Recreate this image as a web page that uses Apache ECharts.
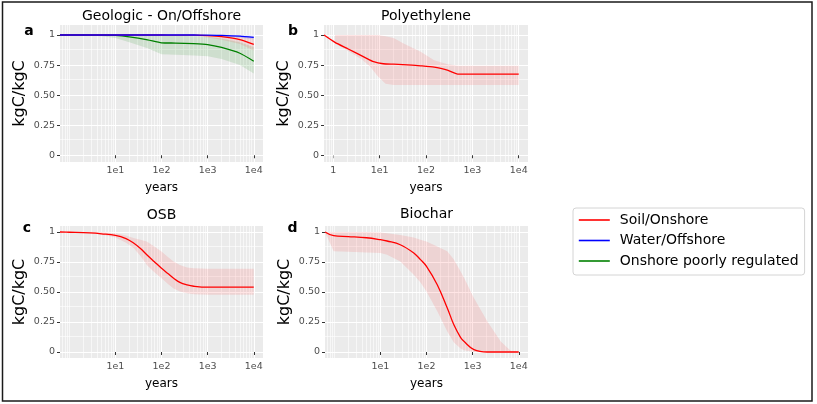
<!DOCTYPE html>
<html><head><meta charset="utf-8">
<script src="https://cdn.jsdelivr.net/npm/echarts@6/dist/echarts.min.js"></script>
<style>html,body{margin:0;padding:0;background:#fff}#c{width:817px;height:404px}</style>
</head><body><div id="c"></div>
<script>
// ---------- data ----------
const seriesNames = ['Soil/Onshore', 'Water/Offshore', 'Onshore poorly regulated'];
const panelTitles = ['Geologic - On/Offshore', 'Polyethylene', 'OSB', 'Biochar'];
const panelLetters = ['a', 'b', 'c', 'd'];
const xTicksA = [10, 100, 1000, 10000];
const xTicksB = [1, 10, 100, 1000, 10000];
const yTicks = [0, 0.25, 0.5, 0.75, 1];
const yMinor = [0.125, 0.375, 0.625, 0.875];

// Panel a: Geologic
const geoX       = [0.631, 1, 2, 5, 10, 20, 50, 100, 200, 500, 1000, 2000, 5000, 10000];
const geoSoil    = [1, 1, 1, 1, 1, 1, 1, 1, 0.999, 0.998, 0.995, 0.986, 0.962, 0.922];
const geoSoilLo  = [1, 1, 1, 1, 1, 1, 1, 1, 0.998, 0.993, 0.98, 0.96, 0.925, 0.87];
const geoSoilHi  = [1, 1, 1, 1, 1, 1, 1, 1, 1, 1, 1, 0.998, 0.99, 0.975];
const geoWater   = [1, 1, 1, 1, 1, 1, 1, 1, 1, 1, 0.999, 0.997, 0.99, 0.98];
const geoWaterLo = [1, 1, 1, 1, 1, 1, 1, 1, 1, 0.999, 0.997, 0.99, 0.978, 0.962];
const geoWaterHi = [1, 1, 1, 1, 1, 1, 1, 1, 1, 1, 1, 1, 0.999, 0.995];
const geoPoor    = [1, 1, 1, 0.999, 0.997, 0.985, 0.96, 0.935, 0.933, 0.928, 0.92, 0.896, 0.848, 0.782];
const geoPoorLo  = [1, 1, 0.998, 0.99, 0.975, 0.94, 0.89, 0.84, 0.835, 0.83, 0.823, 0.8, 0.75, 0.68];
const geoPoorHi  = [1, 1, 1, 1, 1, 1, 0.999, 0.995, 0.993, 0.99, 0.985, 0.97, 0.94, 0.9];

// Panel b: Polyethylene
const peX     = [0.631, 1.09, 2, 5, 7.4, 12, 20, 50, 77, 150, 209, 300, 484, 1000, 10000];
const peSoil  = [1, 0.939, 0.888, 0.81, 0.778, 0.761, 0.757, 0.75, 0.744, 0.733, 0.722, 0.705, 0.675, 0.675, 0.675];
const peBandX = [1.09, 2, 4, 6.3, 9, 13.4, 20, 33, 77, 150, 293, 500, 1000, 10000];
const peLo    = [0.93, 0.87, 0.8, 0.736, 0.66, 0.595, 0.585, 0.585, 0.585, 0.585, 0.585, 0.585, 0.585, 0.585];
const peHi    = [1, 1, 1, 1, 1, 0.99, 0.975, 0.93, 0.86, 0.79, 0.756, 0.745, 0.744, 0.744];

// Panel c: OSB
const osbX    = [0.631, 1, 2.8, 5, 10, 17, 24.8, 35, 48, 70, 100, 140, 183, 250, 358, 500, 1000, 10000];
const osbSoil = [1, 0.998, 0.992, 0.985, 0.972, 0.945, 0.908, 0.862, 0.81, 0.752, 0.698, 0.652, 0.615, 0.58, 0.559, 0.548, 0.54, 0.54];
const osbLo   = [1, 0.999, 0.99, 0.98, 0.955, 0.91, 0.866, 0.8, 0.726, 0.665, 0.615, 0.565, 0.53, 0.505, 0.49, 0.482, 0.477, 0.477];
const osbHi   = [1, 1, 1, 1, 0.99, 0.97, 0.95, 0.935, 0.92, 0.88, 0.838, 0.79, 0.755, 0.726, 0.705, 0.697, 0.693, 0.693];

// Panel d: Biochar
const bcX    = [0.631, 0.97, 2, 5, 10, 14, 27, 53, 74, 100, 171, 282, 392, 550, 647, 1067, 2090, 4070, 6700, 10000];
const bcSoil = [1, 0.969, 0.962, 0.952, 0.936, 0.925, 0.894, 0.825, 0.77, 0.714, 0.561, 0.367, 0.227, 0.12, 0.089, 0.02, 0, 0, 0, 0];
const bcLo   = [1, 0.84, 0.835, 0.83, 0.825, 0.81, 0.755, 0.644, 0.58, 0.505, 0.34, 0.17, 0.08, 0.03, 0.015, 0, 0, 0, 0, 0];
const bcHi   = [1, 1, 1, 1, 0.995, 0.99, 0.975, 0.955, 0.936, 0.92, 0.88, 0.84, 0.77, 0.67, 0.62, 0.45, 0.255, 0.088, 0.01, 0];

// ---------- styling ----------
const FONT = 'DejaVu Sans';
const COL = {'Soil/Onshore': '#FF0000', 'Water/Offshore': '#0000FF', 'Onshore poorly regulated': '#008000'};
const FILL = {'Soil/Onshore': 'rgba(255,0,0,0.10)', 'Water/Offshore': 'rgba(0,0,255,0.10)', 'Onshore poorly regulated': 'rgba(0,128,0,0.12)'};
const X_MIN = Math.pow(10, -0.2), X_MAX = Math.pow(10, 4.2);

const grids = [
  {left: 60, top: 25, width: 203, height: 137, ymin: -0.056, ymax: 1.083, xt: xTicksA},
  {left: 324, top: 25, width: 204, height: 137, ymin: -0.056, ymax: 1.083, xt: xTicksB},
  {left: 60, top: 226, width: 203, height: 132, ymin: -0.05, ymax: 1.05, xt: xTicksA},
  {left: 325, top: 226, width: 203, height: 132, ymin: -0.05, ymax: 1.05, xt: xTicksA}
];

// minor log gridline positions (2..9 x 10^k) inside axis range
const xMinor = [];
for (let k = -1; k <= 4; k++) for (let m = 2; m <= 9; m++) {
  const v = m * Math.pow(10, k);
  if (v > X_MIN && v < X_MAX) xMinor.push(v);
}
xMinor.push(1); // not a labelled break in a, c, d

function pairs(xs, ys) { return xs.map((x, i) => [x, ys[i]]); }

function lineSeries(gi, name, xs, ys, sm) {
  return {type: 'line', name: name, xAxisIndex: gi, yAxisIndex: gi, data: pairs(xs, ys),
    symbol: 'none', showSymbol: false, smooth: sm, z: 6,
    lineStyle: {color: COL[name], width: 1.3}, itemStyle: {color: COL[name]}};
}
function ribbon(gi, name, xs, lo, hi) {
  return {type: 'custom', name: name + ' band', xAxisIndex: gi, yAxisIndex: gi, silent: true, z: 3, clip: true,
    data: [[xs[0], lo[0]]],
    renderItem: function (params, api) {
      const pts = [];
      for (let i = 0; i < xs.length; i++) pts.push(api.coord([xs[i], hi[i]]));
      for (let i = xs.length - 1; i >= 0; i--) pts.push(api.coord([xs[i], lo[i]]));
      return {type: 'polygon', shape: {points: pts, smooth: 0}, style: {fill: FILL[name]}};
    }};
}
function minorGrid(gi) {
  return {type: 'line', name: 'minor' + gi, xAxisIndex: gi, yAxisIndex: gi, data: [], z: 1, silent: true,
    markLine: {silent: true, z: 1, symbol: 'none', animation: false, label: {show: false},
      emphasis: {disabled: true},
      lineStyle: {color: '#FFFFFF', width: 0.6, type: 'solid'},
      data: xMinor.map(v => ({xAxis: v})).concat(yMinor.map(v => ({yAxis: v})))}};
}

const xAxes = grids.map((g, gi) => ({
  type: 'log', logBase: 10, gridIndex: gi, min: X_MIN, max: X_MAX,
  name: 'years', nameLocation: 'middle', nameGap: 20,
  nameTextStyle: {fontSize: 12, color: '#000', fontFamily: FONT},
  axisLine: {show: false},
  axisTick: {show: true, customValues: g.xt, length: 3, lineStyle: {color: '#333', width: 1}},
  axisLabel: {customValues: g.xt, fontSize: 9.5, color: '#4D4D4D', margin: 4, fontFamily: FONT,
    formatter: v => (Math.abs(v - 1) < 1e-9 ? '1' : '1e' + Math.round(Math.log10(v)))},
  splitLine: {show: true, lineStyle: {color: '#FFFFFF', width: 1.1}}
}));
const yAxes = grids.map((g, gi) => ({
  type: 'value', gridIndex: gi, min: g.ymin, max: g.ymax,
  name: 'kgC/kgC', nameLocation: 'middle', nameGap: 32,
  nameTextStyle: {fontSize: 16, color: '#000', fontFamily: FONT},
  axisLine: {show: false},
  axisTick: {show: true, customValues: yTicks, length: 3, lineStyle: {color: '#333', width: 1}},
  axisLabel: {customValues: yTicks, fontSize: 9.5, color: '#4D4D4D', margin: 5, fontFamily: FONT,
    formatter: v => (v === 0 ? '0' : v === 1 ? '1' : v.toFixed(2))},
  splitLine: {show: true, lineStyle: {color: '#FFFFFF', width: 1.1}}
}));

const series = [
  minorGrid(0), minorGrid(1), minorGrid(2), minorGrid(3),
  ribbon(0, seriesNames[2], geoX, geoPoorLo, geoPoorHi),
  ribbon(0, seriesNames[0], geoX, geoSoilLo, geoSoilHi),
  ribbon(0, seriesNames[1], geoX, geoWaterLo, geoWaterHi),
  lineSeries(0, seriesNames[2], geoX, geoPoor, 0.2),
  lineSeries(0, seriesNames[0], geoX, geoSoil, 0.2),
  lineSeries(0, seriesNames[1], geoX, geoWater, 0.2),
  ribbon(1, seriesNames[0], peBandX, peLo, peHi),
  lineSeries(1, seriesNames[0], peX, peSoil, 0.2),
  ribbon(2, seriesNames[0], osbX, osbLo, osbHi),
  lineSeries(2, seriesNames[0], osbX, osbSoil, 0.4),
  ribbon(3, seriesNames[0], bcX, bcLo, bcHi),
  lineSeries(3, seriesNames[0], bcX, bcSoil, 0.4)
];

const titlePos = [[161.5, 16.5], [426, 16.5], [161.5, 215], [426.5, 214.5]];
const letterPos = [[29, 31.5], [293, 31], [27, 228.5], [292.5, 228]];
const graphic = [];
panelTitles.forEach((t, i) => graphic.push({type: 'text', x: titlePos[i][0], y: titlePos[i][1], silent: true,
  style: {text: t, fontSize: 14, fontFamily: FONT, fill: '#000', textAlign: 'center', textVerticalAlign: 'middle'}}));
panelLetters.forEach((t, i) => graphic.push({type: 'text', x: letterPos[i][0], y: letterPos[i][1], silent: true,
  style: {text: t, fontSize: 14, fontWeight: 'bold', fontFamily: FONT, fill: '#000', textAlign: 'center', textVerticalAlign: 'middle'}}));
graphic.push({type: 'rect', silent: true, shape: {x: 2.5, y: 2, width: 809.5, height: 399},
  style: {fill: null, stroke: '#1A1A1A', lineWidth: 1.5}});

const chart = echarts.init(document.getElementById('c'), null, {renderer: 'canvas'});
chart.setOption({
  animation: false,
  backgroundColor: '#FFFFFF',
  textStyle: {fontFamily: FONT},
  grid: grids.map(g => ({left: g.left, top: g.top, width: g.width, height: g.height,
    show: true, backgroundColor: '#EBEBEB', borderWidth: 0, containLabel: false})),
  xAxis: xAxes,
  yAxis: yAxes,
  legend: {orient: 'vertical', left: 573, top: 208, data: seriesNames,
    itemWidth: 31, itemHeight: 14, itemGap: 6.5, padding: [5, 6, 7, 5],
    borderColor: '#D4D4D4', borderWidth: 1, borderRadius: 3,
    itemStyle: {opacity: 0},
    lineStyle: {width: 1.6},
    textStyle: {fontSize: 14, color: '#000', fontFamily: FONT, padding: [0, 0, 0, 5]}},
  graphic: graphic,
  series: series
});
</script></body></html>
